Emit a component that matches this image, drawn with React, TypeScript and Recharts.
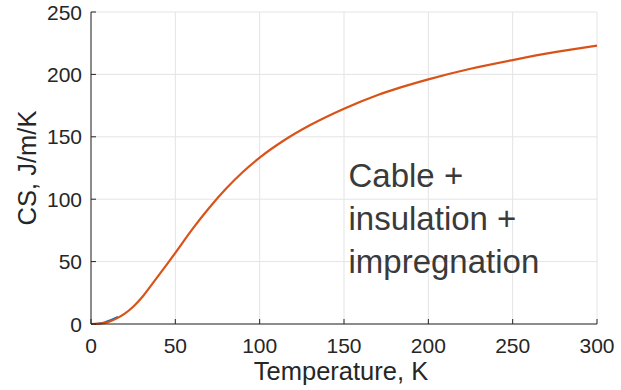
import { CartesianGrid, Line, LineChart, XAxis, YAxis } from "recharts";

// Temperature (K) and heat capacity per unit length (J/m/K)
const tempK = [0, 5, 10, 15, 20, 25, 30, 35, 40, 45, 50, 60, 70, 80, 90, 100, 115, 130, 150, 170, 200, 225, 250, 275, 300];
const csTotal = [0, 0.3, 1.5, 4.3, 8.3, 13.8, 21, 29.8, 38.7, 47.8, 57, 75.8, 92.9, 108.3, 121.8, 133.3, 147.6, 159.4, 172.5, 183.5, 196, 204.5, 211.5, 217.8, 223];

// short low-temperature segment peeking out under the main curve
const tempLowK = [0, 4, 8, 12, 16];
const csLow = [0, 0.2, 1.2, 3.2, 5.6];

const xTicks = [0, 50, 100, 150, 200, 250, 300];
const yTicks = [0, 50, 100, 150, 200, 250];

const totalData = tempK.map((t, i) => ({ t, cs: csTotal[i] }));
const lowData = tempLowK.map((t, i) => ({ t, cs: csLow[i] }));

const FONT = "'Liberation Sans', Arial, Helvetica, sans-serif";
const INK = "#262626";
const ORANGE = "#D95319";
const BLUE = "#0072BD";
const TICK_LEN = 5;

// bottom axis: label below, tick mark pointing up into the plot
function BottomTick({ x, y, payload }: any) {
  return (
    <g>
      <line x1={x} x2={x} y1={y - 14} y2={y - 14 - TICK_LEN} stroke={INK} />
      <text x={x} y={y} dy="0.71em" textAnchor="middle" fill={INK} fontSize={21} fontFamily={FONT}>
        {payload.value}
      </text>
    </g>
  );
}

// left axis: label to the left, tick mark pointing right into the plot
function LeftTick({ x, y, payload }: any) {
  return (
    <g>
      <line x1={x + 9} x2={x + 9 + TICK_LEN} y1={y} y2={y} stroke={INK} />
      <text x={x} y={y} dy="0.36em" textAnchor="end" fill={INK} fontSize={21} fontFamily={FONT}>
        {payload.value}
      </text>
    </g>
  );
}

function TopTick({ x, y }: any) {
  return <line x1={x} x2={x} y1={y} y2={y + TICK_LEN} stroke={INK} />;
}

function RightTick({ x, y }: any) {
  return <line x1={x} x2={x - TICK_LEN} y1={y} y2={y} stroke={INK} />;
}

function YTitle({ viewBox }: any) {
  const cx = viewBox.x + 27;
  const cy = viewBox.y + viewBox.height / 2;
  return (
    <text
      x={cx}
      y={cy}
      dy="0.36em"
      transform={`rotate(-90 ${cx} ${cy})`}
      textAnchor="middle"
      fill={INK}
      fontSize={25.5}
      fontFamily={FONT}
    >
      CS, J/m/K
    </text>
  );
}

function XTitle({ viewBox }: any) {
  const cx = viewBox.x + viewBox.width / 2 - 3;
  const y = viewBox.y + 56;
  return (
    <text x={cx} y={y} textAnchor="middle" fill={INK} fontSize={25.5} fontFamily={FONT}>
      Temperature, K
    </text>
  );
}

export default function App() {
  return (
    <div style={{ position: "absolute", left: 0, top: 0, width: 621, height: 390, background: "#fff" }}>
      <LineChart width={621} height={390} data={totalData} margin={{ top: 12, right: 24, bottom: 0, left: 0 }}>
        <CartesianGrid xAxisId="b" yAxisId="l" stroke="#e4e4e4" strokeWidth={1} />
        <XAxis
          xAxisId="b"
          dataKey="t"
          type="number"
          domain={[0, 300]}
          ticks={xTicks}
          height={66}
          tick={<BottomTick />}
          tickSize={0}
          tickMargin={14}
          tickLine={false}
          axisLine={{ stroke: INK }}
          label={<XTitle />}
        />
        <XAxis
          xAxisId="top"
          dataKey="t"
          type="number"
          orientation="top"
          mirror
          domain={[0, 300]}
          ticks={xTicks}
          height={0}
          tick={<TopTick />}
          tickSize={0}
          tickMargin={0}
          tickLine={false}
          axisLine={{ stroke: INK }}
        />
        <YAxis
          yAxisId="l"
          type="number"
          domain={[0, 250]}
          ticks={yTicks}
          width={91}
          tick={<LeftTick />}
          tickSize={0}
          tickMargin={9}
          tickLine={false}
          axisLine={{ stroke: INK }}
          label={<YTitle />}
        />
        <YAxis
          yAxisId="r"
          type="number"
          orientation="right"
          mirror
          domain={[0, 250]}
          ticks={yTicks}
          width={0}
          tick={<RightTick />}
          tickSize={0}
          tickMargin={0}
          tickLine={false}
          axisLine={{ stroke: INK }}
        />
        <Line
          xAxisId="b"
          yAxisId="l"
          data={lowData}
          dataKey="cs"
          type="monotone"
          stroke={BLUE}
          strokeWidth={2.2}
          dot={false}
          isAnimationActive={false}
        />
        <Line
          xAxisId="b"
          yAxisId="l"
          data={totalData}
          dataKey="cs"
          type="monotone"
          stroke={ORANGE}
          strokeWidth={2.2}
          dot={false}
          isAnimationActive={false}
        />
      </LineChart>
      <div
        style={{
          position: "absolute",
          left: 348.5,
          top: 154.4,
          fontFamily: FONT,
          fontSize: 33,
          lineHeight: "43px",
          color: "#3a3a3a",
          whiteSpace: "nowrap",
        }}
      >
        Cable +
        <br />
        insulation +
        <br />
        impregnation
      </div>
    </div>
  );
}
